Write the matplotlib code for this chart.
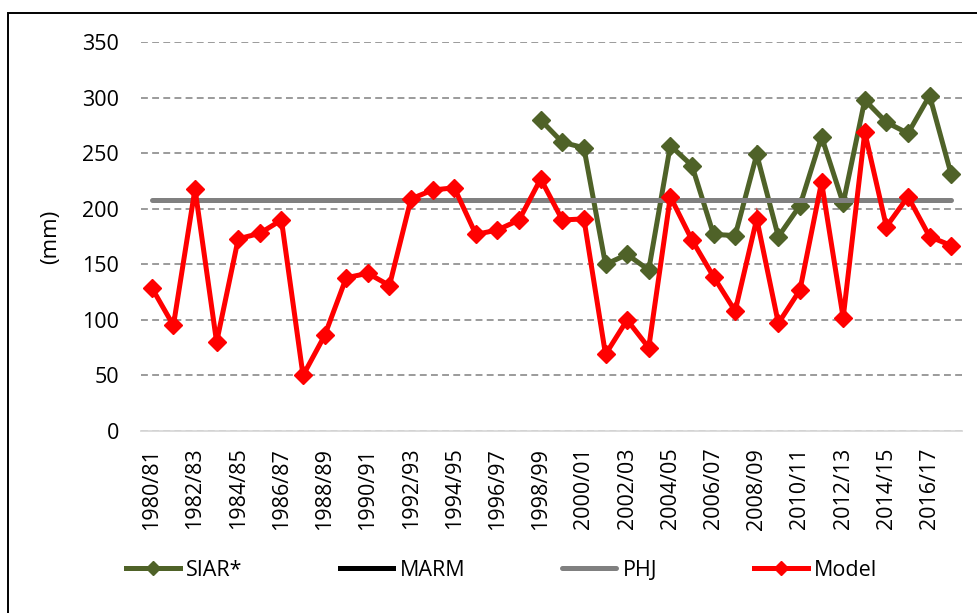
import matplotlib.pyplot as plt
from matplotlib.patches import Rectangle

plt.rcParams['font.family'] = ['Open Sans', 'DejaVu Sans']
plt.rcParams['font.size'] = 15.5

# Hydrological years
seasons = [
    "1980/81", "1981/82", "1982/83", "1983/84", "1984/85", "1985/86",
    "1986/87", "1987/88", "1988/89", "1989/90", "1990/91", "1991/92",
    "1992/93", "1993/94", "1994/95", "1995/96", "1996/97", "1997/98",
    "1998/99", "1999/00", "2000/01", "2001/02", "2002/03", "2003/04",
    "2004/05", "2005/06", "2006/07", "2007/08", "2008/09", "2009/10",
    "2010/11", "2011/12", "2012/13", "2013/14", "2014/15", "2015/16",
    "2016/17", "2017/18",
]

# SIAR* station record only starts in 1998/99
siar = [
    None, None, None, None, None, None, None, None, None, None,
    None, None, None, None, None, None, None, None,
    280, 260, 255, 150, 159, 145, 257, 239, 177, 176,
    249, 175, 203, 265, 205, 298, 278, 268, 302, 231,
]

model = [
    129, 95, 218, 80, 173, 178, 190, 50, 86, 138,
    142, 131, 209, 217, 219, 177, 181, 190, 227, 190,
    191, 69, 100, 75, 211, 172, 139, 108, 191, 97,
    127, 224, 102, 269, 184, 211, 175, 167,
]

phj_value = 208
phj = [phj_value] * len(seasons)
marm = []

green = "#4f6228"
red = "#ff0000"
grey = "#808080"

fig = plt.figure(figsize=(9.77, 6.13), dpi=100)
ax = fig.add_axes([141 / 977, 1 - 431 / 613, 821 / 977, 388.7 / 613])

x = list(range(len(seasons)))
siar_y = [float('nan') if v is None else v for v in siar]

ax.plot(x, siar_y, color=green, lw=3.6, marker="D", ms=9, label="SIAR*",
        solid_joinstyle="miter", zorder=3)
ax.plot(marm, marm, color="black", lw=3.6, label="MARM", zorder=3)
ax.plot(x, phj, color=grey, lw=3.6, solid_capstyle="round", label="PHJ", zorder=4)
ax.plot(x, model, color=red, lw=3.6, marker="D", ms=9, label="Model",
        solid_joinstyle="miter", zorder=5)

ax.set_xlim(-0.5, len(seasons) - 0.5)
ax.set_ylim(0, 350)
ax.set_yticks(range(0, 351, 50))
ax.set_xticks(x[::2])
ax.set_xticklabels(seasons[::2], rotation=90)
ax.tick_params(axis="both", length=0)
ax.tick_params(axis="x", pad=12)
ax.tick_params(axis="y", pad=16)

ax.grid(axis="y", color=grey, lw=1.1, linestyle=(0, (4.5, 2.8)), zorder=1)
ax.set_axisbelow(True)
for side in ["left", "right", "top"]:
    ax.spines[side].set_visible(False)
ax.spines["bottom"].set_color("#d9d9d9")
ax.spines["bottom"].set_linewidth(1.3)

ax.set_ylabel("(mm)", fontsize=16)
ax.yaxis.set_label_coords(-0.0974, 0.5)

fig.legend(loc="center left", bbox_to_anchor=(126 / 977, 1 - 570 / 613),
           ncol=4, frameon=False, borderpad=0, borderaxespad=0,
           handlelength=2.5, handletextpad=0.3, columnspacing=4.5,
           markerscale=0.75)

# outer frame of the chart area
fig.patches.append(Rectangle((8 / 977, -0.1), 1.0, 1 - 13 / 613 + 0.1,
                             transform=fig.transFigure, fill=False,
                             edgecolor="black", lw=1.4))

fig.savefig("out.png", dpi=100)
